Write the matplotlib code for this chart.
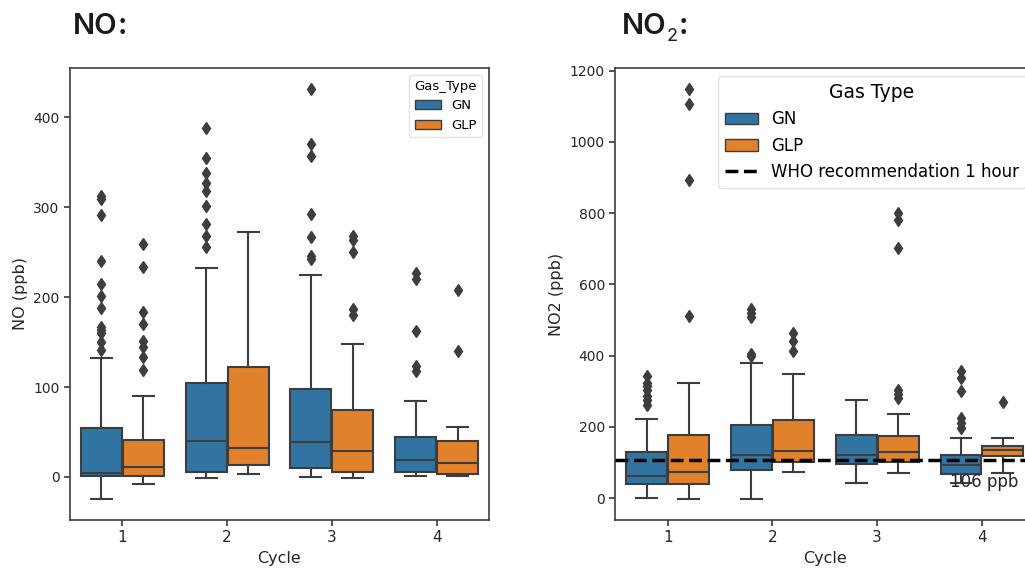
import matplotlib
matplotlib.use("Agg")
import matplotlib.pyplot as plt
from matplotlib.patches import Patch
from matplotlib.lines import Line2D

# Box statistics (ppb), one entry per cycle
CYCLES = ["1", "2", "3", "4"]
GAS_TYPES = ["GN", "GLP"]
GAS_COLORS = {"GN": "#3274a1", "GLP": "#e1812c"}
EDGE = "#3d3d3d"

# NO panel
NO_STATS = {
    "GN": {
        "whislo": [-25, -1, 0, 1.5],
        "q1": [0.7, 5, 10, 5],
        "med": [4, 40, 39, 18.5],
        "q3": [54, 104, 98, 45],
        "whishi": [132, 232, 225, 85],
        "fliers": [
            [141, 150, 160, 164, 167, 188, 201, 215, 240, 291, 309, 312],
            [256, 268, 281, 301, 318, 327, 338, 355, 388],
            [242, 246, 267, 293, 357, 370, 432],
            [118, 123, 162, 220, 227],
        ],
    },
    "GLP": {
        "whislo": [-7.5, 3.3, -1, 1.4],
        "q1": [1.4, 13, 5, 3.7],
        "med": [11, 32, 28.5, 15],
        "q3": [41.5, 122, 74, 40],
        "whishi": [90, 272, 148, 56],
        "fliers": [
            [119, 133, 145, 151, 170, 183, 233, 259],
            [],
            [180, 187, 250, 264, 268],
            [140, 208],
        ],
    },
}

# NO2 panel
NO2_STATS = {
    "GN": {
        "whislo": [0, -3.6, 43, 43],
        "q1": [39, 78.5, 96.5, 69],
        "med": [63.6, 121.6, 120.6, 92],
        "q3": [130, 205, 178, 120],
        "whishi": [223, 380, 275, 169],
        "fliers": [
            [262, 275, 287, 305, 316, 324, 342],
            [400, 405, 510, 520, 531],
            [],
            [197, 211, 225, 300, 338, 356],
        ],
    },
    "GLP": {
        "whislo": [-3.6, 73, 71, 71],
        "q1": [39, 102, 102, 118],
        "med": [73, 132, 130, 134],
        "q3": [178, 219, 174, 146],
        "whishi": [322, 350, 236, 169],
        "fliers": [
            [512, 894, 1108, 1150],
            [412, 440, 464],
            [282, 293, 305, 702, 781, 800],
            [269],
        ],
    },
}

WHO_LIMIT = 106
WHO_LABEL = "WHO recommendation 1 hour"

FIG_W, FIG_H = 1025, 572
DPI = 100
TITLE_FONT = ["Inter", "DejaVu Sans"]


def draw_boxes(ax, stats_by_gas):
    for k, gas in enumerate(GAS_TYPES):
        s = stats_by_gas[gas]
        stats = []
        for i in range(len(CYCLES)):
            stats.append({
                "whislo": s["whislo"][i],
                "q1": s["q1"][i],
                "med": s["med"][i],
                "q3": s["q3"][i],
                "whishi": s["whishi"][i],
                "fliers": s["fliers"][i],
            })
        offset = -0.2 if k == 0 else 0.2
        positions = [i + offset for i in range(len(CYCLES))]
        ax.bxp(
            stats,
            positions=positions,
            widths=0.39,
            capwidths=0.2,
            patch_artist=True,
            showfliers=True,
            manage_ticks=False,
            boxprops=dict(facecolor=GAS_COLORS[gas], edgecolor=EDGE, linewidth=1.5),
            medianprops=dict(color=EDGE, linewidth=1.5),
            whiskerprops=dict(color=EDGE, linewidth=1.5),
            capprops=dict(color=EDGE, linewidth=1.5),
            flierprops=dict(marker="d", markerfacecolor=EDGE, markeredgecolor=EDGE,
                            markersize=6, linestyle="none"),
        )
    ax.set_xticks(range(len(CYCLES)))
    ax.set_xticklabels(CYCLES)
    ax.set_xlim(-0.5, len(CYCLES) - 0.5)
    ax.margins(y=0.05)
    ax.tick_params(axis="both", labelsize=10, colors="#262626", width=1.1, length=4)
    ax.tick_params(axis="x", labelsize=11)
    for sp in ax.spines.values():
        sp.set_color("#3d3d3d")
        sp.set_linewidth(1.2)
    ax.set_xlabel("Cycle", fontsize=11.5, color="#262626")


def gas_handles():
    return [Patch(facecolor=GAS_COLORS[g], edgecolor=EDGE, linewidth=1.0, label=g)
            for g in GAS_TYPES]


def panel_title(fig, x_px, main, sub=None, tail=":"):
    y = 1 - 34 / FIG_H
    kw = dict(fontsize=21, fontweight="semibold", family=TITLE_FONT,
              color="#1a1a1a", va="baseline")
    renderer = fig.canvas.get_renderer()
    t = fig.text(x_px / FIG_W, y, main, **kw)
    x_end = t.get_window_extent(renderer).x1
    if sub is not None:
        s = fig.text(x_end / FIG_W, y - 7 / FIG_H, sub, fontsize=13, family=TITLE_FONT,
                     color="#1a1a1a", va="baseline")
        x_end = s.get_window_extent(renderer).x1 + 1
    fig.text(x_end / FIG_W, y, tail, **kw)


def main():
    fig = plt.figure(figsize=(FIG_W / DPI, FIG_H / DPI), dpi=DPI)
    bottom = (FIG_H - 520) / FIG_H
    height = 452 / FIG_H
    width = 419 / FIG_W

    ax_no = fig.add_axes([70 / FIG_W, bottom, width, height])
    draw_boxes(ax_no, NO_STATS)
    ax_no.set_ylabel("NO (ppb)", fontsize=11.5, color="#262626")
    leg = ax_no.legend(handles=gas_handles(), title="Gas_Type", loc="upper right",
                       fontsize=9.5, title_fontsize=9.5)
    leg.get_frame().set_edgecolor("#dddddd")

    ax_no2 = fig.add_axes([615.3 / FIG_W, bottom, width, height])
    draw_boxes(ax_no2, NO2_STATS)
    ax_no2.set_ylabel("NO2 (ppb)", fontsize=11.5, color="#262626")
    ax_no2.axhline(WHO_LIMIT, color="black", linestyle="--", linewidth=2.5, zorder=5)
    ax_no2.text(2.7, 30, f"{WHO_LIMIT} ppb", fontsize=12, color="#262626",
                va="baseline", ha="left", zorder=6)
    handles = gas_handles() + [Line2D([0], [0], color="black", linestyle="--",
                                      linewidth=2.5, label=WHO_LABEL)]
    leg2 = ax_no2.legend(handles=handles, title="Gas Type", loc="upper right",
                         fontsize=12, title_fontsize=13.5)
    leg2.get_frame().set_edgecolor("#dddddd")

    panel_title(fig, 73, "NO")
    panel_title(fig, 622, "NO", sub="2")

    fig.savefig("out.png", dpi=DPI)
    plt.close(fig)


if __name__ == "__main__":
    main()
